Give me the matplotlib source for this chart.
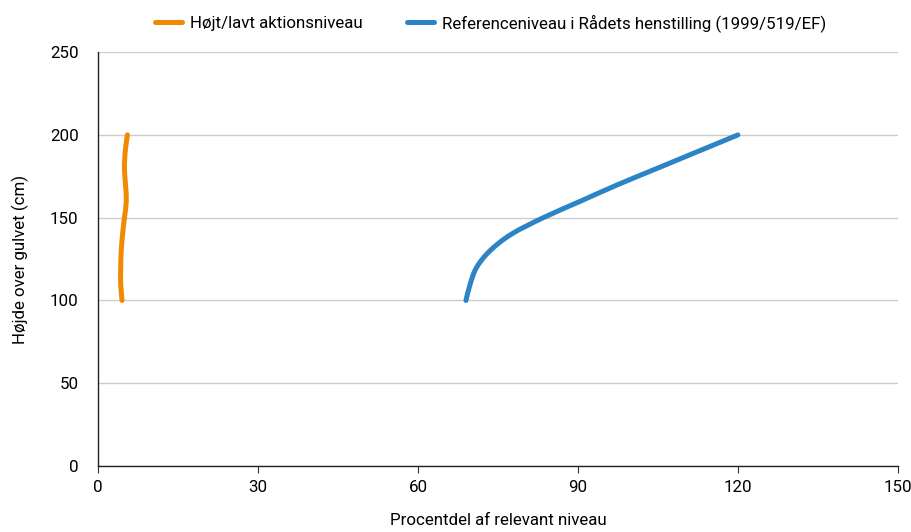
# plot.py
# Height above floor vs share of relevant level (two smoothed profiles)

import matplotlib
matplotlib.use("Agg")
import matplotlib.pyplot as plt
from matplotlib.path import Path
from matplotlib.patches import PathPatch
from matplotlib.lines import Line2D
from matplotlib import font_manager

heights = [100, 110, 120, 130, 140, 150, 160, 170, 180, 190, 200]
action_pct = [4.5, 4.25, 4.25, 4.35, 4.6, 4.95, 5.3, 5.15, 4.95, 5.1, 5.5]
reference_pct = [69.0, 69.8, 71.0, 73.5, 77.5, 83.5, 90.5, 97.5, 105.0, 112.5, 120.0]

labels = ["Højt/lavt aktionsniveau",
          "Referenceniveau i Rådets henstilling (1999/519/EF)"]
colors = ["#F08A00", "#2C84C6"]
x_ticks = [0, 30, 60, 90, 120, 150]
y_ticks = [0, 50, 100, 150, 200, 250]

names = {f.name for f in font_manager.fontManager.ttflist}
FONT = "Roboto" if "Roboto" in names else "DejaVu Sans"
plt.rcParams["font.family"] = [FONT, "DejaVu Sans"]
FS = 12.2


def smooth_path(xs, ys, t=1/6):
    # catmull-rom through the points, drawn as cubic beziers (like Excel's smoothed line)
    pts = list(zip(xs, ys))
    verts = [pts[0]]
    codes = [Path.MOVETO]
    for i in range(len(pts) - 1):
        p0 = pts[i - 1] if i > 0 else pts[i]
        p1, p2 = pts[i], pts[i + 1]
        p3 = pts[i + 2] if i + 2 < len(pts) else pts[i + 1]
        c1 = (p1[0] + (p2[0] - p0[0]) * t, p1[1] + (p2[1] - p0[1]) * t)
        c2 = (p2[0] - (p3[0] - p1[0]) * t, p2[1] - (p3[1] - p1[1]) * t)
        verts += [c1, c2, p2]
        codes += [Path.CURVE4] * 3
    return Path(verts, codes)


fig = plt.figure(figsize=(9.12, 5.32), dpi=100)
ax = fig.add_axes([0.1075, 0.124, 0.877, 0.778])

for xs, c in [(action_pct, colors[0]), (reference_pct, colors[1])]:
    ax.add_patch(PathPatch(smooth_path(xs, heights), facecolor="none",
                           edgecolor=c, lw=3.6, capstyle="round", zorder=3))

ax.set_xlim(0, 150)
ax.set_ylim(0, 250)
ax.set_xticks(x_ticks)
ax.set_yticks(y_ticks)
ax.tick_params(axis="x", length=5, width=0.8, color="#333333", labelsize=FS, pad=5)
ax.tick_params(axis="y", length=0, labelsize=FS, pad=14)
ax.yaxis.grid(True, color="#CCCCCC", lw=1)
ax.set_axisbelow(True)
for s in ("top", "right"):
    ax.spines[s].set_visible(False)
for s in ("left", "bottom"):
    ax.spines[s].set_color("#222222")
    ax.spines[s].set_linewidth(1)

ax.set_xlabel("Procentdel af relevant niveau", fontsize=FS, labelpad=13)
ax.set_ylabel("Højde over gulvet (cm)", fontsize=FS, labelpad=15)

handles = [Line2D([], [], color=c, lw=3.6, solid_capstyle="round") for c in colors]
fig.legend(handles, labels, loc="center", bbox_to_anchor=(0.538, 0.957), ncol=2,
           frameon=False, fontsize=FS, handlelength=1.6, handletextpad=0.5,
           columnspacing=2.6)

fig.savefig("out.png", dpi=100)
